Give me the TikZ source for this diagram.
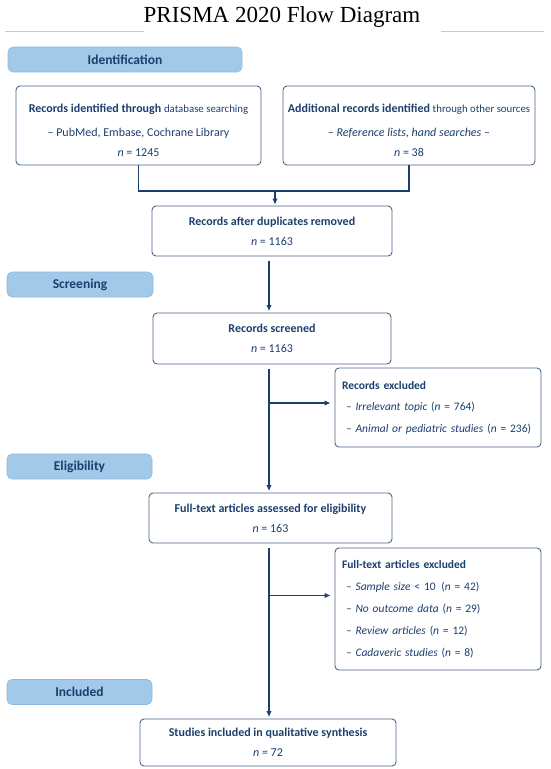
\documentclass[tikz,border=0pt]{standalone}
\usepackage{fontspec}
\setmainfont{Carlito}
\newfontfamily\titlefont{Liberation Serif}
\usetikzlibrary{arrows.meta}
\definecolor{navy}{HTML}{1B3F6E}
\definecolor{boxline}{HTML}{4A6788}
\definecolor{bandfill}{HTML}{A3C9E8}
\definecolor{bandline}{HTML}{8DB9DE}
\definecolor{ruleg}{HTML}{C8CCD0}
\begin{document}
\begin{tikzpicture}[x=1pt,y=-1pt,
  box/.style={draw=boxline, line width=0.9pt, rounded corners=4pt, text=navy,
    align=center, inner sep=0pt, font=\fontsize{12}{20}\selectfont},
  exbox/.style={draw=boxline, line width=0.9pt, rounded corners=4pt, text=navy,
    align=left, inner xsep=7pt, inner ysep=0pt, text width=192pt,
    font=\fontsize{11.5}{21.5}\selectfont},
  band/.style={draw=bandline, line width=0.6pt, fill=bandfill, rounded corners=5pt,
    text=navy, font=\bfseries\fontsize{13.5}{15}\selectfont, minimum height=25pt},
  link/.style={draw=navy, line width=1.1pt},
  arr/.style={link, -{Latex[length=6pt,width=5.5pt]}},
  ttl/.style={text=black, font=\titlefont\fontsize{23}{23}\selectfont}
]
\useasboundingbox (0,0) rectangle (550,769);

% title
\node[ttl] (title) at (282,17) {PRISMA 2020 Flow Diagram};
\draw[ruleg, line width=0.6pt] (5,31) -- (144,31);
\draw[ruleg, line width=0.6pt] (441,31) -- (544,31);

% phase bands
\node[band, minimum width=234pt] (idb) at (125,59.5) {Identification};
\node[band, minimum width=146pt] (scb) at (80,284.5) {Screening};
\node[band, minimum width=145pt] (elb) at (79.5,466.5) {Eligibility};
\node[band, minimum width=145pt] (inb) at (79.5,692) {Included};

% boxes
\node[box, minimum width=245pt, minimum height=79pt] (b1) at (138.5,125.5)
  {\rule{0pt}{19pt}\textbf{Records identified through} {\fontsize{10.8}{20}\selectfont database searching}\\[4pt]
   – PubMed, Embase, Cochrane Library\\
   \textit{n} = 1245};
\node[box, minimum width=252pt, minimum height=79pt] (b2) at (409,125.5)
  {\rule{0pt}{19pt}\textbf{Additional records identified} {\fontsize{10.8}{20}\selectfont through other sources}\\[4pt]
   – \textit{Reference lists, hand searches} –\\
   \textit{n} = 38};
\node[box, minimum width=240pt, minimum height=50pt] (b3) at (272,231)
  {\textbf{Records after duplicates removed}\\ \textit{n} = 1163};
\node[box, minimum width=238pt, minimum height=51pt] (b4) at (272,338.5)
  {\textbf{Records screened}\\ \textit{n} = 1163};
\node[exbox, minimum height=79pt] (x1) at (438,407.5)
  {\textbf{Records excluded}\\
   \hspace*{4pt}– \textit{Irrelevant topic} (\textit{n}~=~764)\\
   \hspace*{4pt}– \textit{Animal or pediatric studies} (\textit{n}~=~236)};
\node[box, minimum width=243pt, minimum height=50pt] (b5) at (270.5,518)
  {\textbf{Full-text articles assessed for eligibility}\\ \textit{n} = 163};
\node[exbox, minimum height=122pt, font=\fontsize{11.5}{22}\selectfont] (x2) at (438,609)
  {\textbf{Full-text articles excluded}\\
   \hspace*{4pt}– \textit{Sample size} < 10\, (\textit{n} = 42)\\
   \hspace*{4pt}– \textit{No outcome data} (\textit{n} = 29)\\
   \hspace*{4pt}– \textit{Review articles} (\textit{n} = 12)\\
   \hspace*{4pt}– \textit{Cadaveric studies} (\textit{n} = 8)};
\node[box, minimum width=256pt, minimum height=47pt] (b6) at (268,742.5)
  {\textbf{Studies included in qualitative synthesis}\\ \textit{n} = 72};

% connectors
\coordinate (j) at (275,191);
\coordinate (sp) at (269,0);
\coordinate (e1) at (269,403);
\coordinate (e2) at (269,595.5);
\draw[link] (b1.south) |- (j) -| (b2.south);
\draw[arr, shorten >=1pt] (j) -- (j |- b3.north);
\draw[arr, shorten <=5pt, shorten >=1.5pt] (b3.south -| sp) -- (b4.north -| sp);
\draw[arr, shorten <=5pt, shorten >=1.5pt] (b4.south -| sp) -- (b5.north -| sp);
\draw[arr, shorten <=5pt, shorten >=1.5pt] (b5.south -| sp) -- (b6.north -| sp);
\draw[arr, shorten >=4pt] (e1) -- (e1 -| x1.west);
\draw[arr, shorten >=4pt] (e2) -- (e2 -| x2.west);
\end{tikzpicture}
\end{document}
